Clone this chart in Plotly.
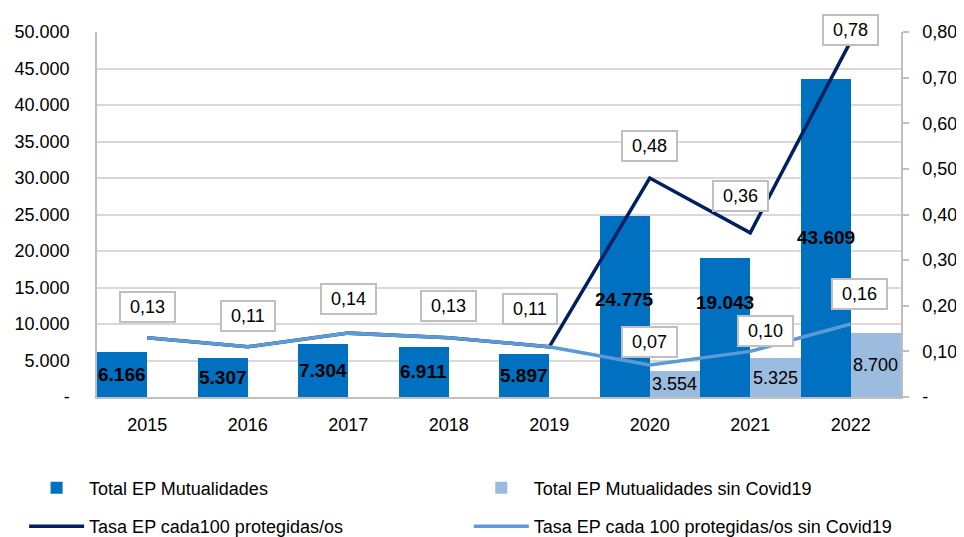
import plotly.graph_objects as go

years = ["2015", "2016", "2017", "2018", "2019", "2020", "2021", "2022"]
total_ep = [6166, 5307, 7304, 6911, 5897, 24775, 19043, 43609]
total_sin_covid = [None, None, None, None, None, 3554, 5325, 8700]
tasa = [0.13, 0.11, 0.14, 0.13, 0.11, 0.48, 0.36, 0.78]
tasa_sin_covid = [0.13, 0.11, 0.14, 0.13, 0.11, 0.07, 0.10, 0.16]

left_ticks = [0, 5000, 10000, 15000, 20000, 25000, 30000, 35000, 40000, 45000, 50000]
left_labels = ["-", "5.000", "10.000", "15.000", "20.000", "25.000", "30.000",
               "35.000", "40.000", "45.000", "50.000"]
right_ticks = [0, 0.1, 0.2, 0.3, 0.4, 0.5, 0.6, 0.7, 0.8]
right_labels = ["-", "0,10", "0,20", "0,30", "0,40", "0,50", "0,60", "0,70", "0,80"]


def es_int(v):
    return f"{v:,.0f}".replace(",", ".")


def es_dec(v):
    return f"{v:.2f}".replace(".", ",")


FONT = "Liberation Sans, Arial, sans-serif"
C_DARK_BAR = "#0070C0"
C_LIGHT_BAR = "#9BBBDF"
C_DARK_LINE = "#002060"
C_LIGHT_LINE = "#5B9BD5"

fig = go.Figure()
fig.add_trace(go.Bar(x=years, y=total_ep, name="Total EP Mutualidades",
                     marker=dict(color=C_DARK_BAR, line=dict(width=0)),
                     legend="legend", showlegend=True))
fig.add_trace(go.Bar(x=years, y=total_sin_covid, name="Total EP Mutualidades sin Covid19",
                     marker=dict(color=C_LIGHT_BAR, line=dict(width=0)),
                     legend="legend2", showlegend=True))
fig.add_trace(go.Scatter(x=years, y=tasa, name="Tasa EP cada100 protegidas/os",
                         mode="lines", line=dict(color=C_DARK_LINE, width=3.5),
                         yaxis="y2", legend="legend3", showlegend=True))
fig.add_trace(go.Scatter(x=years, y=tasa_sin_covid,
                         name="Tasa EP cada 100 protegidas/os sin Covid19",
                         mode="lines", line=dict(color=C_LIGHT_LINE, width=3.5),
                         yaxis="y2", legend="legend4", showlegend=True))

annotations = []
# bar value labels (category index positions on the category axis)
dark_label_yshift = [0, 0, 0, 0, 0, 7, 25, 0]
for i, v in enumerate(total_ep):
    annotations.append(dict(x=i, y=v / 2, xref="x", yref="y", text=es_int(v),
                            showarrow=False, xshift=-25, yshift=dark_label_yshift[i],
                            font=dict(family=FONT, size=19, color="black", weight="bold")))
for i, v in enumerate(total_sin_covid):
    if v is None:
        continue
    annotations.append(dict(x=i, y=v / 2, xref="x", yref="y", text=es_int(v),
                            showarrow=False, xshift=25,
                            font=dict(family=FONT, size=18, color="black")))

# boxed line labels
box = dict(showarrow=False, xref="x", yref="y2", bgcolor="white",
           bordercolor="#BFBFBF", borderwidth=2, borderpad=4,
           font=dict(family=FONT, size=18, color="black"))
shift_shared = [(0, 31), (0, 31), (0, 34), (0, 32), (-19, 38)]
for i in range(5):
    annotations.append(dict(box, x=i, y=tasa_sin_covid[i],
                            text="&nbsp;" + es_dec(tasa_sin_covid[i]) + "&nbsp;",
                            xshift=shift_shared[i][0], yshift=shift_shared[i][1]))
shift_dark = [(0, 32), (-10, 37), (0, 11)]
for j, i in enumerate(range(5, 8)):
    annotations.append(dict(box, x=i, y=tasa[i],
                            text="&nbsp;" + es_dec(tasa[i]) + "&nbsp;",
                            xshift=shift_dark[j][0], yshift=shift_dark[j][1]))
shift_light = [(0, 23), (15, 20), (9, 30)]
for j, i in enumerate(range(5, 8)):
    annotations.append(dict(box, x=i, y=tasa_sin_covid[i],
                            text="&nbsp;" + es_dec(tasa_sin_covid[i]) + "&nbsp;",
                            xshift=shift_light[j][0], yshift=shift_light[j][1]))

legend_style = dict(orientation="h", xanchor="left", itemwidth=55,
                    xref="container", yref="container",
                    font=dict(family=FONT, size=18, color="#000000"),
                    bgcolor="rgba(0,0,0,0)")

fig.update_layout(
    width=964, height=537,
    margin=dict(l=89, r=71, t=24, b=148, autoexpand=False),
    paper_bgcolor="white", plot_bgcolor="white",
    font=dict(family=FONT, size=18, color="#000000"),
    barmode="group", bargap=0, bargroupgap=0,
    showlegend=True,
    annotations=annotations,
    xaxis=dict(type="category", range=[-0.5, 7.5], showgrid=False, showline=True,
               linecolor="#BFBFBF", linewidth=1.5, ticks="", ticklabelstandoff=11,
               tickfont=dict(family=FONT, size=18, color="#000000")),
    yaxis=dict(range=[0, 50000], tickvals=left_ticks, ticktext=left_labels,
               showgrid=True, gridcolor="#D9D9D9", gridwidth=1.5,
               showline=True, linecolor="#BFBFBF", linewidth=1.5,
               zeroline=False, ticks="", ticklabelstandoff=22,
               tickfont=dict(family=FONT, size=18, color="#000000")),
    yaxis2=dict(range=[0, 0.8], tickvals=right_ticks, ticktext=right_labels,
                overlaying="y", side="right", showgrid=False,
                showline=True, linecolor="#BFBFBF", linewidth=1.5,
                zeroline=False, ticks="outside", ticklen=6, tickcolor="#BFBFBF",
                tickwidth=1.5, ticklabelstandoff=10,
                tickfont=dict(family=FONT, size=18, color="#000000")),
    legend=dict(legend_style, x=0.0167, y=0.106, yanchor="middle"),
    legend2=dict(legend_style, x=0.478, y=0.106, yanchor="middle"),
    legend3=dict(legend_style, x=0.0167, y=0.0, yanchor="bottom"),
    legend4=dict(legend_style, x=0.478, y=0.0, yanchor="bottom"),
)

fig.write_html("out.html")
